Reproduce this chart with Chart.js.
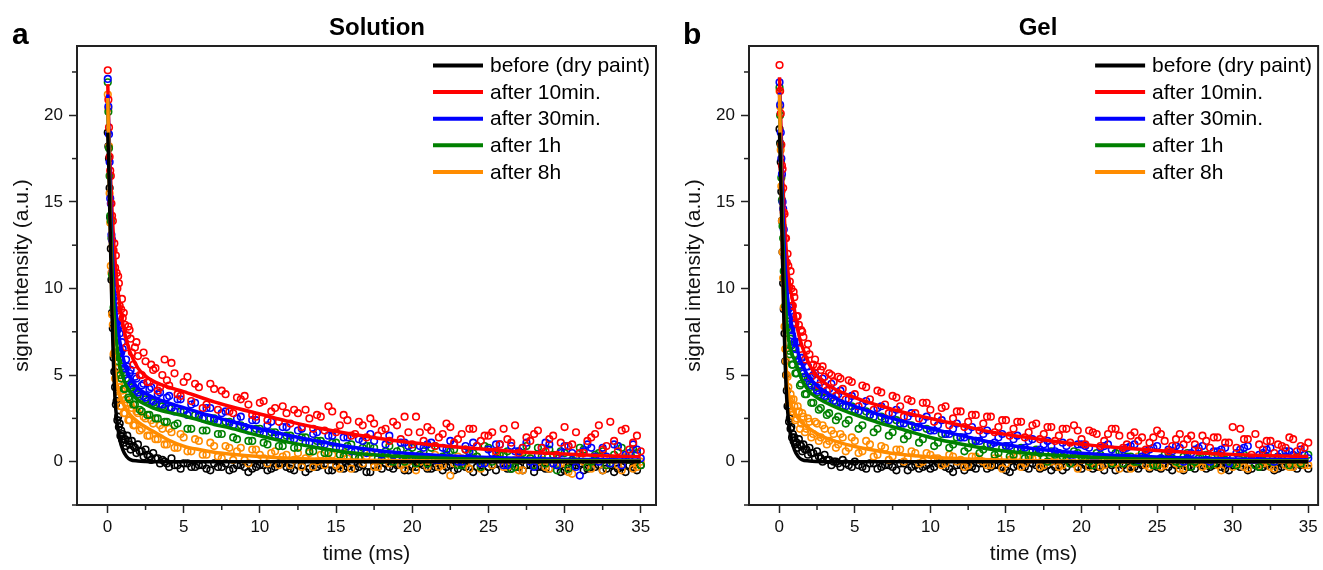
<!DOCTYPE html>
<html><head><meta charset="utf-8">
<script src="https://cdn.jsdelivr.net/npm/chart.js@4.4.0/dist/chart.umd.min.js"></script>
<style>
html,body{margin:0;padding:0;background:#fff;width:1323px;height:570px;overflow:hidden;font-family:"Liberation Sans",Arial,sans-serif;}
canvas{position:absolute;top:0;}
#ca{left:0}
#cb{left:672px}
.lab{position:absolute;font-weight:bold;color:#000;white-space:nowrap;line-height:1;}
</style></head><body>
<canvas id="ca" width="661" height="570"></canvas>
<canvas id="cb" width="651" height="570"></canvas>
<div class="lab" style="left:12px;top:19px;font-size:30px;">a</div>
<div class="lab" style="left:683px;top:19px;font-size:30px;">b</div>
<div class="lab" style="left:377px;top:15px;font-size:24px;transform:translateX(-50%);">Solution</div>
<div class="lab" style="left:1038px;top:15px;font-size:24px;transform:translateX(-50%);">Gel</div>
<script>
// ---------- DATA ----------
const SERIES = ['before (dry paint)', 'after 10min.', 'after 30min.', 'after 1h', 'after 8h'];
const COLORS = ['#000000', '#ff0000', '#0000ff', '#008000', '#ff8c00'];
const PANEL_TITLES = ['Solution', 'Gel'];
const X_TICK_LABELS = [0, 5, 10, 15, 20, 25, 30, 35];
const Y_TICK_LABELS = [0, 5, 10, 15, 20];

// time of measured points (ms), first and second sampling
const TS = [0.02,0.06,0.1,0.14,0.18,0.22,0.26,0.3,0.35,0.4,0.45,0.5,0.6,0.7,0.8,0.9,1.0,1.15,1.3,1.45,1.6,1.8,2.0,2.25,2.5,2.75,3.0,3.3,3.6,3.9,4.2,4.6,5.0,5.5,
6,6.5,7,7.5,8,8.5,9,9.5,10,10.5,11,11.5,12,12.5,13,13.5,14,14.5,15,15.5,16,16.5,17,17.5,18,18.5,19,19.5,20,20.5,21,21.5,22,22.5,23,23.5,24,24.5,25,25.5,26,26.5,27,27.5,28,28.5,29,29.5,30,30.5,31,31.5,32,32.5,33,33.5,34,34.5,35];
const TS2 = [0.55,0.65,0.75,0.85,0.95,1.07,1.22,1.37,1.52,1.7,1.9,2.12,2.37,2.62,2.87,3.15,3.45,3.75,4.05,4.4,4.8,5.25,5.75,
6.25,6.75,7.25,7.75,8.25,8.75,9.25,9.75,10.25,10.75,11.25,11.75,12.25,12.75,13.25,13.75,14.25,14.75,15.25,15.75,16.25,16.75,17.25,17.75,18.25,18.75,19.25,19.75,
20.25,20.75,21.25,21.75,22.25,22.75,23.25,23.75,24.25,24.75,25.25,25.75,26.25,26.75,27.25,27.75,28.25,28.75,29.25,29.75,30.25,30.75,31.25,31.75,32.25,32.75,33.25,33.75,34.25,34.75];
// time of fitted-curve samples (ms)
const TF = [0.02,0.1,0.2,0.3,0.4,0.5,0.6,0.8,1,1.25,1.5,2,2.5,3,4,5,6,7,8,10,12,14,16,18,20,22.5,25,27.5,30,32.5,35];

// Panel a (Solution) fitted curves
const fitA_before = [19,16.5,12.5,8.5,5.5,3.6,2.5,1.3,0.7,0.3,0.12,0.04,0.01,0,0,0,0,0,0,0,0,0,0,0,0,0,0,0,0,0,0];
const fitA_10min  = [21.8,19,16.5,14.5,12.8,11.6,10.6,9.1,8.0,7.0,6.3,5.4,4.95,4.65,4.3,4.05,3.75,3.45,3.2,2.75,2.3,1.92,1.6,1.33,1.1,0.88,0.7,0.55,0.44,0.35,0.28];
const fitA_30min  = [21.2,18.3,15,12.4,10.5,9.2,8.3,7.0,6.1,5.35,4.85,4.25,3.95,3.72,3.4,3.12,2.85,2.6,2.35,1.9,1.5,1.15,0.85,0.62,0.46,0.33,0.24,0.18,0.14,0.11,0.09];
const fitA_1h     = [20.8,17.5,14,11.2,9.2,7.8,6.8,5.6,4.9,4.35,4.0,3.55,3.3,3.1,2.85,2.65,2.4,2.15,1.95,1.5,1.1,0.78,0.52,0.37,0.27,0.19,0.13,0.09,0.07,0.05,0.04];
const fitA_8h     = [21,17,12.5,9,6.5,5.2,4.5,3.8,3.4,3.0,2.7,2.3,2.0,1.75,1.25,0.9,0.7,0.55,0.45,0.3,0.2,0.14,0.1,0.07,0.05,0.03,0.02,0.01,0.01,0.01,0.01];

// Panel a measured points (at TS)
const ptsA_before = [19.0,18.2,17.5,15.8,14.1,12.3,10.5,8.6,7.7,6.0,5.2,4.3,3.5,2.6,2.2,1.8,1.6,1.3,1.5,1.0,1.2,0.8,1.0,0.6,0.7,0.3,0.5,0.2,0.1,-0.1,
0.2,-0.2,-0.1,-0.3,-0.2,-0.4,-0.1,-0.3,-0.5,-0.2,-0.3,-0.4,-0.2,-0.5,-0.3,-0.1,-0.4,-0.2,-0.6,-0.3,-0.2,-0.5,-0.3,-0.4,-0.1,-0.3,-0.6,-0.2,-0.4,-0.3,
-0.2,-0.5,-0.3,-0.1,-0.4,-0.3,-0.5,-0.2,-0.4,-0.3,-0.6,-0.2,-0.3,-0.5,-0.1,-0.4,-0.3,-0.2,-0.6,-0.3,-0.4,-0.2,-0.5,-0.3,-0.1,-0.4,-0.3,-0.5,-0.2,-0.4,-0.6,-0.3,-0.2];
const ptsA_10min = [22.6,20.9,19.3,17.6,16.8,16.5,14.9,14.2,13.9,12.2,12.6,11.2,10.9,10.7,9.0,8.8,8.3,7.9,7.3,7.6,6.3,6.6,6.1,5.0,5.8,4.6,5.3,4.1,5.0,4.7,
5.7,3.9,4.6,3.5,4.3,3.3,4.2,4.1,2.9,3.7,3.8,2.7,3.4,2.4,3.1,3.2,2.2,2.8,3.0,1.9,2.6,3.2,1.7,2.7,1.5,2.3,1.4,2.2,1.8,1.2,
2.1,2.6,1.0,1.7,2.0,0.9,1.6,2.0,1.3,0.7,1.9,1.2,1.5,0.6,1.9,1.1,0.5,1.4,1.6,0.8,1.3,0.4,2.0,1.0,0.5,1.2,1.6,0.7,2.3,0.6,1.9,1.1,0.6];
const ptsA_30min = [22.1,20.5,18.9,17.3,15.2,14.9,13.1,12.8,11.0,10.9,9.5,9.6,8.0,7.9,7.4,6.3,6.5,5.4,5.5,5.1,4.5,4.9,4.0,4.4,3.7,4.2,3.5,3.9,3.3,3.7,
3.1,3.6,2.9,3.3,2.6,3.1,2.4,2.8,2.2,2.5,2.0,2.4,1.7,2.1,1.5,2.0,1.3,1.8,1.1,1.6,1.0,1.5,0.8,1.4,0.6,1.3,0.5,1.2,0.4,1.5,
0.3,1.1,0.2,0.9,1.0,0.1,0.8,1.2,0.0,0.9,1.1,-0.1,0.7,1.0,-0.2,0.9,0.6,1.1,-0.3,0.8,1.0,-0.2,0.9,0.5,-0.8,1.0,0.3,0.8,-0.1,0.9,0.4,1.0,0.2];
const ptsA_1h = [21.9,20.2,18.1,16.5,14.2,13.9,12.9,10.8,10.6,8.9,8.8,7.4,7.2,5.8,6.0,4.8,5.3,4.2,4.7,3.6,4.3,3.3,3.9,2.9,3.6,2.7,3.4,2.5,3.2,2.3,
3.1,2.2,2.9,1.9,2.7,1.8,2.5,1.6,2.3,1.3,2.0,1.2,1.9,1.0,1.7,0.9,1.5,0.8,1.4,0.6,1.2,0.5,1.1,0.3,1.0,0.2,0.9,0.8,0.1,0.9,
0.6,0.0,0.8,0.4,-0.1,0.9,0.3,0.6,-0.2,0.7,0.5,-0.3,0.8,0.2,0.4,-0.4,0.6,0.9,-0.2,0.3,0.7,-0.5,0.5,0.1,0.8,-0.3,0.4,0.6,-0.1,0.9,0.2,0.7,-0.2];
const ptsA_8h = [21.2,20.4,18.2,15.5,13.8,11.3,10.9,8.5,7.9,6.2,6.3,4.8,5.0,3.7,4.3,3.2,3.9,2.8,3.4,2.4,3.1,2.1,2.8,1.9,2.5,1.5,2.2,1.3,1.9,1.0,
1.7,0.8,1.4,0.6,1.2,0.4,0.9,0.2,0.8,0.6,0.1,0.7,0.4,-0.1,0.6,0.3,-0.2,0.5,0.2,-0.3,0.4,0.1,-0.2,0.5,-0.4,0.2,0.3,-0.3,0.4,-0.1,
0.2,-0.4,0.3,0.0,-0.3,0.4,-0.2,-0.8,0.3,-0.1,0.2,-0.4,0.1,0.4,-0.3,0.0,-0.5,0.3,-0.2,0.1,-0.4,0.2,-0.1,-0.7,0.3,-0.3,0.1,-0.5,0.2,-0.2,0.3,-0.4,0.0];

// Panel a measured points (at TS2)
const ptsA2_before = [3.3,2.4,2.0,1.5,1.3,1.1,0.9,1.2,0.7,0.9,0.5,0.6,0.3,0.4,0.1,0.2,-0.1,0.0,-0.3,-0.2,-0.4,-0.1,-0.3,
-0.2,-0.5,-0.3,-0.1,-0.4,-0.2,-0.6,-0.3,-0.2,-0.4,-0.1,-0.3,-0.5,-0.2,-0.4,-0.3,-0.1,-0.5,-0.2,-0.3,-0.4,-0.2,-0.6,-0.3,-0.1,-0.4,-0.2,-0.5,-0.3,-0.2,
-0.4,-0.1,-0.3,-0.5,-0.2,-0.4,-0.3,-0.6,-0.2,-0.1,-0.4,-0.3,-0.5,-0.2,-0.3,-0.4,-0.1,-0.6,-0.3,-0.2,-0.5,-0.3,-0.2,-0.4,-0.6,-0.3,-0.2,-0.5];
const ptsA2_10min = [11.9,10.0,10.3,8.4,9.4,8.6,6.6,7.8,7.1,5.6,6.9,5.0,6.3,4.6,5.6,5.4,4.3,5.9,4.4,5.1,3.8,4.9,4.5,
3.1,4.5,3.0,3.9,2.8,3.6,3.3,2.6,3.5,2.9,2.3,2.8,3.0,2.0,2.5,2.7,1.8,2.9,2.1,2.4,1.6,2.1,2.5,1.5,1.9,2.3,1.3,1.7,2.6,1.2,
1.8,1.4,2.2,1.1,1.6,1.9,0.9,1.5,1.7,1.0,1.3,2.1,0.8,1.2,1.8,0.6,1.5,1.1,0.9,1.7,0.5,1.4,2.1,0.9,1.2,1.8,0.7,1.5];
const ptsA2_30min = [9.3,7.6,7.8,6.3,6.9,5.4,5.9,4.7,5.3,4.2,4.8,3.8,4.5,3.5,4.3,3.3,4.0,3.1,3.8,2.9,3.6,2.7,3.4,
2.5,3.1,2.3,2.9,2.1,2.6,1.8,2.4,1.6,2.3,1.5,2.0,1.3,1.9,1.1,1.7,1.0,1.5,0.8,1.4,0.6,1.2,1.6,0.5,1.0,0.4,1.1,0.9,0.2,0.8,
1.1,0.1,0.7,1.0,0.0,0.6,0.9,-0.1,0.5,1.0,-0.2,0.6,0.8,0.0,0.4,1.1,-0.1,0.5,0.9,-0.3,0.6,0.8,0.0,0.3,1.0,-0.2,0.5,0.7];
const ptsA2_1h = [7.9,6.1,6.4,5.0,5.5,4.2,4.8,3.7,4.4,3.3,4.1,3.0,3.8,2.7,3.5,2.5,3.3,2.3,3.1,2.1,2.9,1.9,2.7,
1.8,2.5,1.6,2.3,1.4,2.1,1.2,1.9,1.1,1.7,0.9,1.5,0.8,1.4,0.6,1.2,0.5,1.1,0.4,0.9,0.3,0.8,0.9,0.2,0.6,0.0,0.7,0.5,-0.1,0.6,
0.8,0.1,0.4,0.7,-0.2,0.5,0.3,0.9,0.0,0.4,0.6,-0.3,0.5,0.2,0.8,-0.1,0.4,0.6,-0.4,0.3,0.7,0.0,0.5,-0.2,0.4,0.8,0.1,0.5];
const ptsA2_8h = [5.4,3.8,4.5,3.2,4.1,2.8,3.6,2.4,3.3,2.1,2.9,1.8,2.6,1.5,2.4,1.3,2.1,1.0,1.9,0.8,1.6,0.6,1.3,
0.4,1.1,0.3,0.9,0.1,0.8,-0.1,0.7,0.2,0.5,-0.2,0.4,0.1,-0.3,0.5,0.0,-0.2,0.4,-0.4,0.2,0.3,-0.1,0.5,-0.3,0.1,0.4,-0.2,0.0,-0.5,0.3,
0.1,-0.3,0.4,-0.1,0.2,-0.4,0.3,0.0,-0.2,0.5,-0.3,0.1,-0.5,0.2,0.0,-0.3,0.3,-0.1,-0.6,0.2,0.0,-0.4,0.3,-0.2,0.1,-0.5,0.2,-0.3];

// Panel b (Gel) fitted curves
const fitB_before = [19,16.5,12.5,8.5,5.5,3.6,2.5,1.3,0.7,0.3,0.12,0.04,0.01,0,0,0,0,0,0,0,0,0,0,0,0,0,0,0,0,0,0];
const fitB_10min  = [22.2,19.8,17,14.8,13.1,11.8,10.8,9.7,8.8,7.5,6.7,5.6,4.95,4.55,4.05,3.7,3.4,3.15,2.9,2.5,2.1,1.72,1.45,1.2,1.0,0.8,0.64,0.52,0.42,0.35,0.3];
const fitB_30min  = [21.3,18.5,15.5,13,11.2,10,9.1,8.0,7.3,6.3,5.6,4.85,4.4,4.05,3.55,3.2,2.9,2.62,2.38,1.92,1.52,1.12,0.85,0.64,0.49,0.36,0.27,0.2,0.15,0.12,0.1];
const fitB_1h     = [20.9,17.6,14,11.2,9.3,8.0,7.2,6.3,5.9,5.35,4.75,4.05,3.7,3.45,3.05,2.72,2.42,2.14,1.9,1.4,1.02,0.72,0.52,0.38,0.28,0.19,0.13,0.09,0.06,0.05,0.04];
const fitB_8h     = [21.2,17.2,12.3,8.6,6.3,4.9,4.0,3.25,2.85,2.5,2.25,1.9,1.62,1.4,1.1,0.88,0.7,0.55,0.43,0.27,0.17,0.11,0.07,0.05,0.03,0.02,0.02,0.01,0.01,0.01,0.01];

// Panel b measured points (at TS)
const ptsB_before = [19.2,18.4,17.3,15.6,13.9,12.1,10.3,8.8,7.4,5.8,5.0,4.1,3.2,2.5,2.0,1.6,1.4,1.1,1.3,0.9,1.0,0.7,0.8,0.5,0.6,0.2,0.4,0.1,0.0,-0.1,
0.1,-0.2,0.0,-0.3,-0.1,-0.4,-0.2,-0.3,-0.1,-0.5,-0.2,-0.3,-0.4,-0.1,-0.3,-0.6,-0.2,-0.3,-0.4,-0.1,-0.3,-0.2,-0.5,-0.3,-0.1,-0.4,-0.2,-0.3,-0.5,-0.2,
-0.3,-0.1,-0.4,-0.2,-0.3,-0.5,-0.2,-0.1,-0.4,-0.3,-0.2,-0.4,-0.3,-0.1,-0.5,-0.2,-0.3,-0.4,-0.2,-0.3,-0.1,-0.4,-0.2,-0.3,-0.5,-0.2,-0.3,-0.1,-0.4,-0.2,-0.3,-0.2,-0.4];
const ptsB_10min = [22.9,21.4,20.1,18.3,17.1,16.9,15.8,14.4,14.3,12.9,12.9,11.5,11.3,10.4,10.0,9.0,9.5,8.4,7.9,7.6,7.2,6.4,6.2,5.6,5.5,5.3,4.9,5.1,4.6,4.9,
4.2,4.7,3.9,4.4,3.6,4.1,3.3,3.8,3.2,3.6,2.8,3.4,3.0,2.6,3.2,2.5,2.9,2.3,2.7,2.2,2.6,2.0,2.4,1.9,2.3,1.7,2.2,1.6,2.0,1.5,
1.9,2.1,1.3,1.8,1.6,1.2,1.9,1.5,1.0,1.7,1.4,1.1,1.8,1.2,0.9,1.6,1.3,1.0,1.5,0.8,1.4,1.1,2.0,1.9,1.3,1.6,0.7,1.2,1.0,0.8,1.3,0.9,1.1];
const ptsB_30min = [21.9,20.6,19.0,17.5,16.6,15.0,14.6,13.4,11.8,11.6,10.2,10.4,8.8,8.9,7.6,8.0,6.9,6.9,5.8,6.0,5.1,5.5,4.5,5.0,4.1,4.6,3.8,4.2,3.5,3.9,
3.2,3.6,2.9,3.3,2.7,3.1,2.4,2.8,2.2,2.6,2.0,2.4,1.8,2.1,1.6,1.9,1.4,1.8,1.2,1.6,1.0,1.4,0.9,1.3,0.7,1.2,0.6,1.0,0.9,0.5,
0.9,0.4,1.0,0.8,0.3,0.9,0.7,0.2,0.8,1.0,0.3,0.7,0.9,0.1,0.6,0.8,0.2,0.7,0.9,0.0,0.6,0.8,0.2,0.7,0.9,0.1,0.5,0.8,0.3,0.6,0.4,0.7,0.2];
const ptsB_1h = [21.6,20.0,18.3,16.4,15.1,13.6,12.9,11.0,10.6,9.0,9.0,7.7,7.6,6.2,6.7,5.6,6.2,5.1,5.5,4.5,4.9,3.9,4.3,3.4,4.0,3.1,3.7,2.8,3.5,2.6,
3.2,2.4,3.0,2.1,2.7,1.9,2.5,1.7,2.2,1.5,2.0,1.3,1.8,1.1,1.6,1.0,1.4,0.8,1.2,0.7,1.0,0.5,0.9,0.4,0.8,0.3,0.7,0.2,0.6,0.5,
0.1,0.6,0.3,0.0,0.5,0.2,-0.1,0.6,0.3,0.0,0.5,0.1,-0.2,0.4,0.2,-0.1,0.5,0.0,0.3,-0.2,0.4,0.1,-0.1,0.5,0.2,-0.2,0.4,0.0,0.3,0.6,0.1,-0.1,0.4];
const ptsB_8h = [21.4,20.5,18.0,15.9,13.9,12.1,10.6,8.9,7.8,6.5,5.8,5.0,4.3,3.5,3.6,2.9,3.2,2.5,2.9,2.2,2.6,1.9,2.3,1.6,2.2,1.4,1.9,1.2,1.6,1.0,
1.4,0.8,1.2,0.6,1.0,0.4,0.8,0.3,0.7,0.2,0.5,0.0,0.4,0.2,-0.1,0.3,0.1,-0.2,0.3,0.0,-0.2,0.2,-0.1,0.3,-0.3,0.1,0.2,-0.2,0.0,-0.3,
0.2,-0.1,0.1,-0.3,0.2,-0.2,0.0,-0.4,0.1,-0.1,0.2,-0.3,0.0,-0.2,0.1,-0.4,0.2,-0.1,-0.3,0.0,-0.2,0.1,-0.3,0.0,-0.4,0.2,-0.1,-0.3,0.1,-0.2,-0.3,0.0,-0.2];

// Panel b measured points (at TS2)
const ptsB2_before = [3.2,2.3,1.9,1.4,1.2,1.0,0.8,1.0,0.6,0.7,0.4,0.5,0.2,0.3,0.0,0.1,-0.2,0.0,-0.3,-0.1,-0.3,-0.2,-0.4,
-0.1,-0.3,-0.2,-0.5,-0.1,-0.3,-0.4,-0.2,-0.3,-0.1,-0.4,-0.2,-0.5,-0.3,-0.1,-0.4,-0.2,-0.3,-0.6,-0.2,-0.3,-0.1,-0.4,-0.2,-0.3,-0.5,-0.1,-0.3,-0.2,-0.4,
-0.3,-0.1,-0.5,-0.2,-0.3,-0.4,-0.1,-0.2,-0.4,-0.3,-0.2,-0.5,-0.3,-0.1,-0.4,-0.2,-0.3,-0.5,-0.2,-0.1,-0.4,-0.3,-0.2,-0.5,-0.3,-0.1,-0.4,-0.2];
const ptsB2_10min = [12.0,10.1,11.0,9.0,9.8,8.0,8.4,6.5,7.5,5.9,6.8,4.9,5.9,4.4,5.5,4.1,5.0,3.8,4.8,3.6,4.6,3.2,4.3,
3.0,4.0,2.8,3.7,2.6,3.5,2.5,3.4,2.3,3.1,2.1,2.9,2.0,2.7,1.8,2.6,1.7,2.4,1.5,2.3,1.4,2.1,1.3,2.0,1.2,1.9,1.1,1.8,1.0,1.7,
0.9,1.6,1.9,0.8,1.5,1.2,0.7,1.4,1.6,0.6,1.3,1.0,1.5,0.6,1.2,1.4,0.5,1.1,0.8,1.3,0.4,1.0,1.2,0.5,0.9,1.4,0.6,0.8];
const ptsB2_30min = [9.9,8.3,8.7,7.3,7.9,6.5,6.9,5.6,6.0,4.9,5.5,4.4,5.1,3.9,4.8,3.6,4.5,3.4,4.1,3.2,3.8,2.9,3.5,
2.6,3.2,2.4,3.0,2.2,2.8,2.0,2.6,1.8,2.4,1.6,2.2,1.4,2.0,1.2,1.8,1.1,1.6,0.9,1.5,0.8,1.3,0.7,1.2,0.6,1.1,0.4,1.0,0.9,0.3,
0.8,1.0,0.2,0.7,0.9,0.1,0.6,0.8,0.2,0.7,0.9,0.0,0.5,0.8,0.1,0.6,0.7,-0.1,0.5,0.8,0.1,0.4,0.7,0.0,0.5,0.6,0.2,0.4];
const ptsB2_1h = [8.1,6.4,7.1,5.6,6.6,5.1,5.8,4.4,5.2,3.9,4.8,3.4,4.3,3.0,4.0,2.7,3.7,2.4,3.4,2.2,3.2,1.9,2.9,
1.7,2.6,1.5,2.4,1.3,2.1,1.1,1.9,0.9,1.6,0.8,1.4,0.6,1.2,0.5,1.0,0.4,0.8,0.3,0.7,0.2,0.6,0.5,0.0,0.4,0.3,-0.1,0.5,0.2,-0.2,
0.4,0.1,0.5,-0.1,0.3,0.0,0.4,-0.2,0.2,0.5,0.0,0.3,-0.3,0.2,0.4,-0.1,0.3,0.0,-0.2,0.4,0.1,-0.3,0.3,0.0,0.2,-0.2,0.3,0.1];
const ptsB2_8h = [4.9,3.4,3.9,2.7,3.6,2.4,3.2,1.9,2.8,1.7,2.5,1.4,2.3,1.2,2.1,1.0,1.8,0.8,1.6,0.6,1.4,0.5,1.2,
0.3,0.9,0.1,0.7,0.0,0.6,-0.1,0.5,0.2,-0.2,0.4,0.0,-0.3,0.3,0.1,-0.2,0.2,-0.4,0.1,0.3,-0.1,0.2,-0.3,0.0,0.3,-0.2,0.1,-0.4,0.2,0.0,
-0.3,0.2,-0.1,0.1,-0.4,0.3,-0.2,0.0,-0.3,0.2,-0.1,-0.4,0.1,0.0,-0.2,0.2,-0.5,0.0,-0.1,-0.3,0.1,-0.2,0.0,-0.4,0.1,-0.3,-0.1,-0.2];

// ---------- CHART ----------
const FONT = '"Liberation Sans", Arial, sans-serif';
function xy(xs, ys) { return xs.map((x, i) => ({ x: x, y: ys[i] })); }
function isMajor(v) { return Math.abs(v % 5) < 1e-9; }

const framePlugin = {
  id: 'frame',
  afterDatasetsDraw(chart) {
    const ctx = chart.ctx, ca = chart.chartArea;
    const fits = chart.data.datasets.filter(d => d.isFit);
    ctx.save();
    ctx.font = '21px ' + FONT;
    ctx.textBaseline = 'middle';
    ctx.textAlign = 'left';
    fits.forEach((d, i) => {
      const y = 65.5 + i * 26.6;
      ctx.strokeStyle = d.borderColor;
      ctx.lineWidth = 4;
      ctx.beginPath();
      ctx.moveTo(ca.right - 223, y);
      ctx.lineTo(ca.right - 173, y);
      ctx.stroke();
      ctx.fillStyle = '#000';
      ctx.fillText(d.label, ca.right - 166, y + 1);
    });
    ctx.restore();
  },
  afterDraw(chart) {
    const ctx = chart.ctx, ca = chart.chartArea;
    ctx.save();
    ctx.strokeStyle = '#222';
    ctx.lineWidth = 2;
    ctx.strokeRect(ca.left, ca.top, ca.right - ca.left, ca.bottom - ca.top);
    ctx.lineWidth = 1.5;
    const xs = chart.scales.x, ys = chart.scales.y;
    xs.ticks.forEach(t => {
      if (isMajor(t.value)) return;
      const p = xs.getPixelForValue(t.value);
      ctx.beginPath(); ctx.moveTo(p, ca.bottom); ctx.lineTo(p, ca.bottom + 5); ctx.stroke();
    });
    ys.ticks.forEach(t => {
      if (isMajor(t.value)) return;
      const p = ys.getPixelForValue(t.value);
      ctx.beginPath(); ctx.moveTo(ca.left - 5, p); ctx.lineTo(ca.left, p); ctx.stroke();
    });
    ctx.restore();
  }
};

function makeChart(id, fits, pts, pts2, xMax, padRight) {
  const datasets = [];
  const lineOrder = [0, 4, 3, 2, 1];
  const ptOrder = [14, 10, 11, 12, 13];
  SERIES.forEach((name, k) => {
    datasets.push({
      label: name, isFit: true, data: xy(TF, fits[k]), showLine: true,
      borderColor: COLORS[k], backgroundColor: COLORS[k], borderWidth: 3.5,
      pointRadius: 0, cubicInterpolationMode: 'monotone', order: lineOrder[k]
    });
  });
  SERIES.forEach((name, k) => {
    datasets.push({
      label: name + ' (data)', isFit: false, data: xy(TS, pts[k]).concat(xy(TS2, pts2[k])), showLine: false,
      borderColor: COLORS[k], backgroundColor: 'rgba(255,255,255,0)',
      pointStyle: 'circle', pointRadius: 3.3, pointBorderWidth: 1.6, pointHoverRadius: 3,
      order: ptOrder[k]
    });
  });
  const tickColor = c => (c.tick && isMajor(c.tick.value)) ? '#222' : 'rgba(0,0,0,0)';
  return new Chart(document.getElementById(id), {
    type: 'scatter',
    data: { datasets: datasets },
    plugins: [framePlugin],
    options: {
      responsive: false, animation: false, devicePixelRatio: 1,
      layout: { padding: { top: 46, right: padRight, left: 0, bottom: 0 } },
      plugins: { legend: { display: false }, tooltip: { enabled: false }, title: { display: false } },
      scales: {
        x: {
          type: 'linear', min: -2, max: xMax,
          border: { display: true, color: '#222', width: 2 },
          grid: { drawOnChartArea: false, drawTicks: true, tickLength: 8, tickWidth: 1.5, tickColor: tickColor },
          ticks: {
            stepSize: 2.5, includeBounds: false, autoSkip: false, maxRotation: 0, padding: 4,
            color: '#111', font: { size: 17, family: FONT },
            callback: v => (X_TICK_LABELS.includes(v) ? String(v) : '')
          },
          title: { display: true, text: 'time (ms)', color: '#111', font: { size: 21, family: FONT }, padding: { top: 0, bottom: 3 } },
          afterFit: s => { s.height = 65; }
        },
        y: {
          type: 'linear', min: -2.5, max: 24,
          border: { display: true, color: '#222', width: 2 },
          grid: { drawOnChartArea: false, drawTicks: true, tickLength: 8, tickWidth: 1.5, tickColor: tickColor },
          ticks: {
            stepSize: 2.5, includeBounds: false, autoSkip: false, padding: 6,
            color: '#111', font: { size: 17, family: FONT },
            callback: v => (Y_TICK_LABELS.includes(v) ? String(v) : '')
          },
          title: { display: true, text: 'signal intensity (a.u.)', color: '#111', font: { size: 21, family: FONT }, padding: { top: 10, bottom: 0 } },
          afterFit: s => { s.width = 77; }
        }
      }
    }
  });
}

makeChart('ca', [fitA_before, fitA_10min, fitA_30min, fitA_1h, fitA_8h],
  [ptsA_before, ptsA_10min, ptsA_30min, ptsA_1h, ptsA_8h],
  [ptsA2_before, ptsA2_10min, ptsA2_30min, ptsA2_1h, ptsA2_8h], 36, 5);
makeChart('cb', [fitB_before, fitB_10min, fitB_30min, fitB_1h, fitB_8h],
  [ptsB_before, ptsB_10min, ptsB_30min, ptsB_1h, ptsB_8h],
  [ptsB2_before, ptsB2_10min, ptsB2_30min, ptsB2_1h, ptsB2_8h], 35.65, 2);
</script>
</body></html>
